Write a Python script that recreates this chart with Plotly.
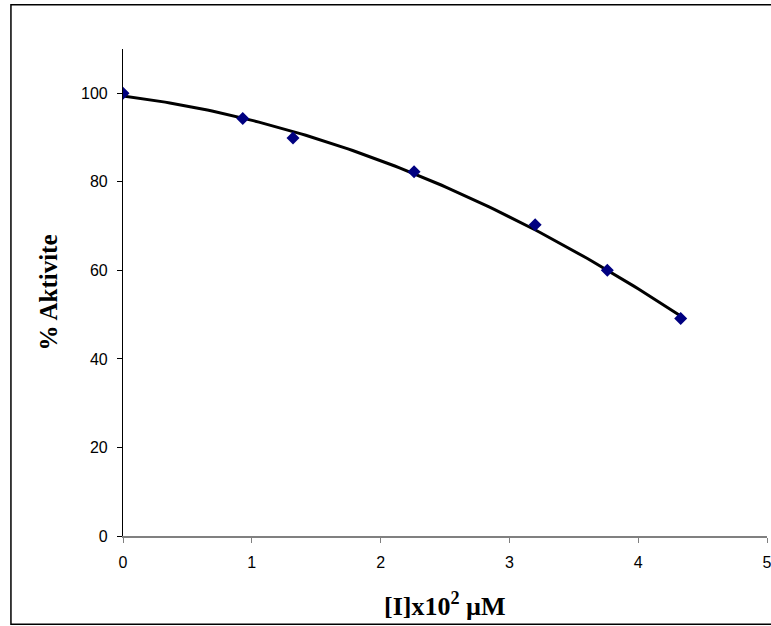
import numpy as np
import plotly.graph_objects as go

# Data
conc = [0, 0.93, 1.32, 2.26, 3.20, 3.76, 4.33]        # [I] x10^2 µM
activity = [100, 94.3, 89.9, 82.3, 70.3, 60.0, 49.1]  # % Aktivite

x_ticks = [0, 1, 2, 3, 4, 5]
y_ticks = [0, 20, 40, 60, 80, 100]

# Second-order polynomial trend line fitted to the data
coef = np.polyfit(conc, activity, 2)
xf = np.linspace(min(conc), max(conc), 120)
yf = np.polyval(coef, xf)

fig = go.Figure()
fig.add_trace(go.Scatter(x=xf, y=yf, mode="lines",
                         line=dict(color="black", width=3), hoverinfo="skip"))
fig.add_trace(go.Scatter(x=conc, y=activity, mode="markers",
                         marker=dict(symbol="diamond", size=10, color="#000080")))

serif = "Liberation Serif, Times New Roman, serif"

fig.update_layout(
    width=771, height=626,
    margin=dict(l=123, r=4, t=49, b=90, autoexpand=False),
    paper_bgcolor="white", plot_bgcolor="white",
    showlegend=False,
    font=dict(family="Liberation Sans, Arial", size=16, color="black"),
    xaxis=dict(range=[0, 5], tickvals=x_ticks, ticks="outside", ticklen=5,
               tickcolor="#808080", showline=True, linecolor="#808080", linewidth=1.5,
               showgrid=False, zeroline=False, ticklabelstandoff=6,
               ticklabeloverflow="allow", automargin=False),
    yaxis=dict(range=[0, 110], tickvals=y_ticks, ticks="outside", ticklen=5,
               tickcolor="black", showline=True, linecolor="black", linewidth=1.2,
               showgrid=False, zeroline=False, ticklabelstandoff=6, automargin=False),
    shapes=[dict(type="rect", xref="paper", yref="paper",
                 x0=-0.174, x1=1.02, y0=-0.181, y1=1.091,
                 line=dict(color="black", width=1.5), layer="below")],
    annotations=[
        dict(text="<b>[I]x10<sup>2</sup> µM</b>", xref="paper", yref="paper",
             x=0.5, y=-0.141, xanchor="center", yanchor="middle", showarrow=False,
             font=dict(family=serif, size=26, color="black")),
        dict(text="<b>% Aktivite</b>", xref="paper", yref="paper",
             x=-0.115, y=0.5, xanchor="center", yanchor="middle", showarrow=False,
             textangle=-90,
             font=dict(family=serif, size=25, color="black")),
    ],
)

fig.write_html("out.html",
               config={"displayModeBar": False},
               post_script="document.body.style.margin='0';document.body.style.overflow='hidden';")
